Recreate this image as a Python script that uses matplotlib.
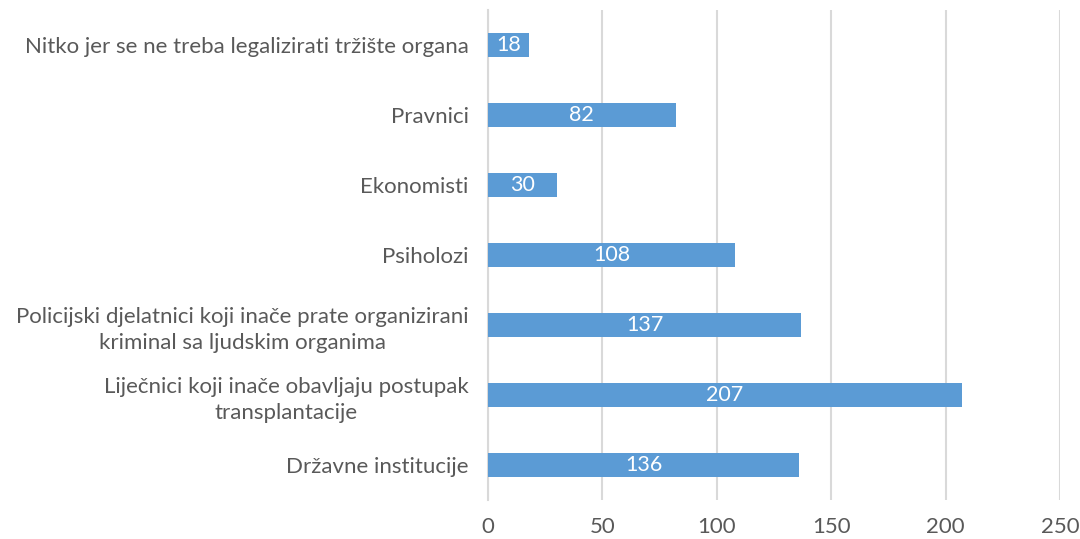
import matplotlib
matplotlib.use("Agg")
import matplotlib.pyplot as plt

# podaci
kategorije = [
    "Državne institucije",
    "Liječnici koji inače obavljaju postupak\ntransplantacije",
    "Policijski djelatnici koji inače prate organizirani\nkriminal sa ljudskim organima",
    "Psiholozi",
    "Ekonomisti",
    "Pravnici",
    "Nitko jer se ne treba legalizirati tržište organa",
]
vrijednosti = [136, 207, 137, 108, 30, 82, 18]
x_ticks = [0, 50, 100, 150, 200, 250]

plt.rcParams["font.family"] = ["Lato", "DejaVu Sans"]
tekst = "#595959"
siva = "#D9D9D9"

fig = plt.figure(figsize=(10.8, 5.39), dpi=100)
ax = fig.add_axes([488 / 1080, 1 - 500 / 539, 572 / 1080, 490 / 539])

y = range(len(kategorije))
bars = ax.barh(y, vrijednosti, height=0.34, color="#5B9BD5", zorder=3)
for b, v in zip(bars, vrijednosti):
    ax.text(b.get_width() / 2, b.get_y() + b.get_height() / 2, str(v),
            ha="center", va="center", color="white", fontsize=15.5, zorder=4)

ax.set_xlim(0, 250)
ax.set_ylim(-0.5, len(kategorije) - 0.5)
ax.set_xticks(x_ticks)
ax.set_yticks(list(y))
ax.set_yticklabels(kategorije, multialignment="center", linespacing=1.35)
ax.tick_params(axis="both", length=0, colors=tekst, labelsize=16)
ax.tick_params(axis="x", pad=12)
ax.tick_params(axis="y", pad=14)
ax.grid(axis="x", color=siva, linewidth=1.5, zorder=0)
for s in ["top", "right", "bottom"]:
    ax.spines[s].set_visible(False)
ax.spines["left"].set_color(siva)
ax.spines["left"].set_linewidth(1.5)

fig.savefig("out.png", dpi=100)
